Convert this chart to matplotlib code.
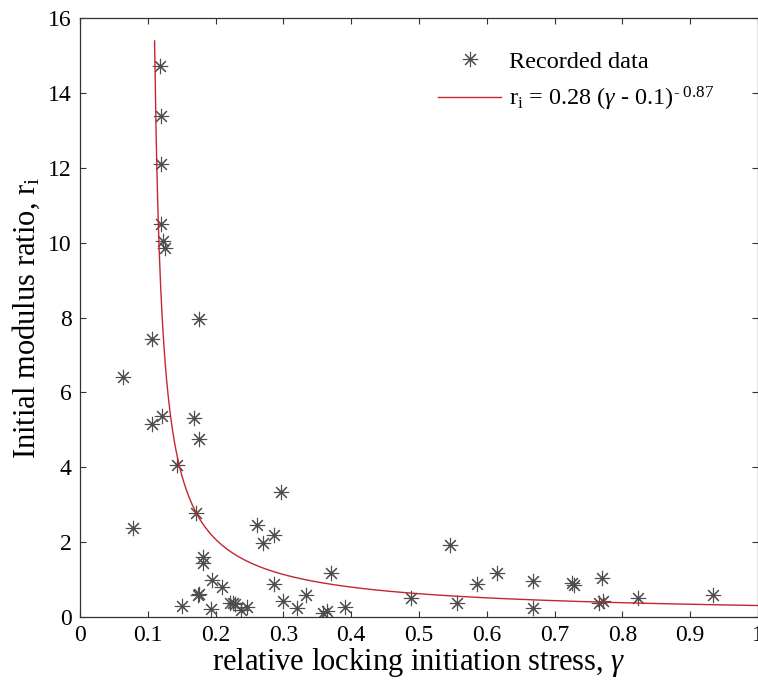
import numpy as np
import matplotlib
matplotlib.use('Agg')
import matplotlib.pyplot as plt

plt.rcParams['font.family'] = ['Liberation Serif', 'DejaVu Serif']
plt.rcParams['mathtext.fontset'] = 'custom'
plt.rcParams['mathtext.rm'] = 'Liberation Serif'
plt.rcParams['mathtext.it'] = 'Liberation Serif:italic'

# Recorded data (relative locking initiation stress, initial modulus ratio)
gamma = [0.118, 0.120, 0.120, 0.120, 0.123, 0.125,
         0.1755, 0.1057, 0.063, 0.1205, 0.1067, 0.168, 0.176, 0.1426,
         0.2965, 0.171, 0.0777, 0.2616, 0.270, 0.2866, 0.182, 0.182,
         0.3697, 0.194, 0.209, 0.1755, 0.174, 0.2866, 0.333, 0.299,
         0.150, 0.193, 0.221, 0.226, 0.229, 0.246, 0.238, 0.3196,
         0.359, 0.364, 0.391,
         0.5457, 0.488, 0.5565, 0.585, 0.6155, 0.6677, 0.6677, 0.726,
         0.7286, 0.770, 0.7655, 0.771, 0.8235, 0.934]
r_i = [14.73, 13.38, 12.09, 10.50, 10.05, 9.85,
       7.96, 7.42, 6.41, 5.37, 5.15, 5.32, 4.75, 4.06,
       3.33, 2.79, 2.37, 2.46, 1.98, 2.19, 1.61, 1.43,
       1.18, 0.99, 0.79, 0.61, 0.58, 0.87, 0.59, 0.43,
       0.29, 0.21, 0.38, 0.37, 0.34, 0.28, 0.19, 0.23,
       0.10, 0.17, 0.28,
       1.92, 0.50, 0.38, 0.87, 1.18, 0.96, 0.23, 0.90,
       0.85, 1.03, 0.37, 0.44, 0.50, 0.59]

# fitted curve parameters, from the legend
a, g0, n = 0.28, 0.1, -0.87
g_fit = np.linspace(0.11, 1.0, 400)
r_fit = a * (g_fit - g0) ** n

fig = plt.figure(figsize=(7.58, 6.86), dpi=100)
ax = fig.add_axes([80 / 758, 1 - 617 / 686, 678 / 758, 599 / 686])

ax.plot(gamma, r_i, linestyle='none', marker=(8, 2, 0), markersize=11,
        markeredgewidth=0.8, color='0.3', label='Recorded data')
ax.plot(g_fit, r_fit, color='#c1272d', linewidth=1.0,
        label='r$_\\mathrm{i}$ = 0.28 ($\\gamma$ - 0.1)$^{\\mathrm{\u2010\\ 0.87}}$')

ax.set_xlim(0, 1)
ax.set_ylim(0, 16)
ax.set_xticks(np.arange(0, 1.01, 0.1))
ax.set_xticklabels(['0', '0.1', '0.2', '0.3', '0.4', '0.5', '0.6', '0.7', '0.8', '0.9', '1'])
ax.set_yticks(np.arange(0, 17, 2))
ax.tick_params(direction='in', top=True, right=True, length=4.5, width=0.8,
               labelsize=17, color='0.2', pad=6)
for s in ax.spines.values():
    s.set_linewidth(0.9)
    s.set_color('0.2')

ax.set_xlabel('relative locking initiation stress, $\\gamma$', fontsize=22, labelpad=0)
ax.set_ylabel('Initial modulus ratio, r$_\\mathrm{i}$', fontsize=22, labelpad=4)

ax.legend(loc='upper right', frameon=False, fontsize=17.5, handlelength=2.6,
          handletextpad=0.3, labelspacing=0.5, bbox_to_anchor=(0.967, 0.982))

fig.savefig('out.png', dpi=100)
